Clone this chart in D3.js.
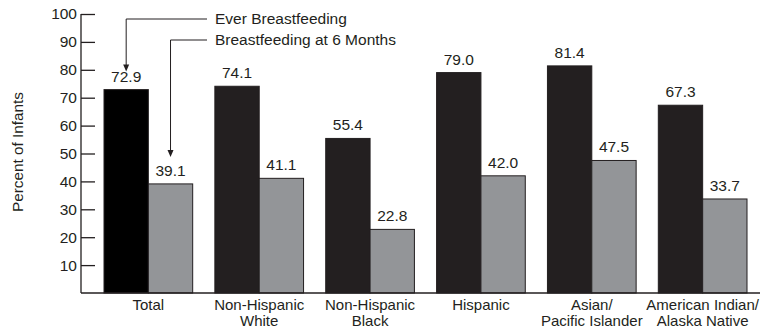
<!DOCTYPE html>
<html>
<head>
<meta charset="utf-8">
<script src="https://cdn.jsdelivr.net/npm/d3@7"></script>
<style>
  html, body { margin: 0; padding: 0; background: #fff; }
  svg { display: block; font-family: "Liberation Sans", Arial, sans-serif; }
</style>
</head>
<body>
<svg id="chart" width="763" height="331"></svg>
<script>
// Breastfeeding rates by race/ethnicity
const categories = [
  ["Total"],
  ["Non-Hispanic", "White"],
  ["Non-Hispanic", "Black"],
  ["Hispanic"],
  ["Asian/", "Pacific Islander"],
  ["American Indian/", "Alaska Native"]
];
const seriesNames = ["Ever Breastfeeding", "Breastfeeding at 6 Months"];
const everBreastfeeding = [72.9, 74.1, 55.4, 79.0, 81.4, 67.3];
const atSixMonths = [39.1, 41.1, 22.8, 42.0, 47.5, 33.7];
const yTicks = [10, 20, 30, 40, 50, 60, 70, 80, 90, 100];

const svg = d3.select("#chart");
const ink = "#231f20";
const grey = "#939598";

const axisX = 81, baseY = 293, topY = 14;
const x = d3.scaleBand()
  .domain(d3.range(categories.length))
  .range([104, 747])
  .paddingInner(0.2)
  .paddingOuter(0);
const sub = d3.scaleBand().domain([0, 1]).range([0, x.bandwidth()]);
const y = d3.scaleLinear().domain([0, 100]).range([baseY, topY]);

// y axis with inward ticks
const yAxis = svg.append("g").attr("transform", `translate(${axisX},0)`)
  .call(d3.axisLeft(y).tickValues(yTicks).tickSize(-14).tickPadding(18).tickSizeOuter(0));
yAxis.select(".domain").remove();
yAxis.selectAll(".tick line").attr("stroke", ink).attr("stroke-width", 1.3);
yAxis.selectAll(".tick text")
  .attr("x", -4).attr("fill", ink)
  .style("font-size", "15.5px").style("font-family", "Liberation Sans, Arial, sans-serif");
svg.append("line").attr("x1", axisX).attr("x2", axisX).attr("y1", topY).attr("y2", baseY)
  .attr("stroke", ink).attr("stroke-width", 1.3);

// axis title
svg.append("text")
  .attr("transform", "translate(23,152) rotate(-90)")
  .attr("text-anchor", "middle").attr("fill", ink)
  .style("font-size", "15.3px").text("Percent of Infants");

// bars
const series = [everBreastfeeding, atSixMonths];
series.forEach((vals, s) => {
  const g = svg.append("g");
  g.selectAll("rect").data(vals).join("rect")
    .attr("x", (d, i) => x(i) + sub(s))
    .attr("y", d => y(d))
    .attr("width", sub.bandwidth())
    .attr("height", d => baseY - y(d))
    .attr("fill", (d, i) => s === 0 ? (i === 0 ? "#000" : ink) : grey)
    .attr("stroke", ink).attr("stroke-width", 1);
  g.selectAll("text").data(vals).join("text")
    .attr("x", (d, i) => x(i) + sub(s) + sub.bandwidth() / 2)
    .attr("y", d => y(d) - 8)
    .attr("text-anchor", "middle").attr("fill", ink)
    .style("font-size", "15.5px")
    .text(d => d.toFixed(1));
});

// baseline
svg.append("line").attr("x1", axisX).attr("x2", 760).attr("y1", baseY).attr("y2", baseY)
  .attr("stroke", ink).attr("stroke-width", 1.3);

// category labels
const cat = svg.append("g");
categories.forEach((lines, i) => {
  const t = cat.append("text")
    .attr("x", x(i) + x.bandwidth() / 2)
    .attr("y", 310)
    .attr("text-anchor", "middle").attr("fill", ink)
    .style("font-size", "15px");
  lines.forEach((ln, k) => {
    t.append("tspan").attr("x", x(i) + x.bandwidth() / 2).attr("dy", k === 0 ? 0 : 16).text(ln);
  });
});

// legend with callout arrows onto the Total bars
const legendRows = [
  { name: seriesNames[0], ly: 19, tipGap: 18 },
  { name: seriesNames[1], ly: 40, tipGap: 27 }
];
legendRows.forEach((r, s) => {
  const cx = x(0) + sub(s) + sub.bandwidth() / 2;
  const tipY = y(series[s][0]) - r.tipGap;
  svg.append("path")
    .attr("d", `M207,${r.ly}H${cx}V${tipY - 6}`)
    .attr("fill", "none").attr("stroke", ink).attr("stroke-width", 1);
  svg.append("path")
    .attr("d", `M${cx - 3},${tipY - 7}L${cx + 3},${tipY - 7}L${cx},${tipY}Z`)
    .attr("fill", ink);
  svg.append("text")
    .attr("x", 215).attr("y", r.ly + 5)
    .attr("fill", ink).style("font-size", "15.5px")
    .text(r.name);
});
</script>
</body>
</html>
